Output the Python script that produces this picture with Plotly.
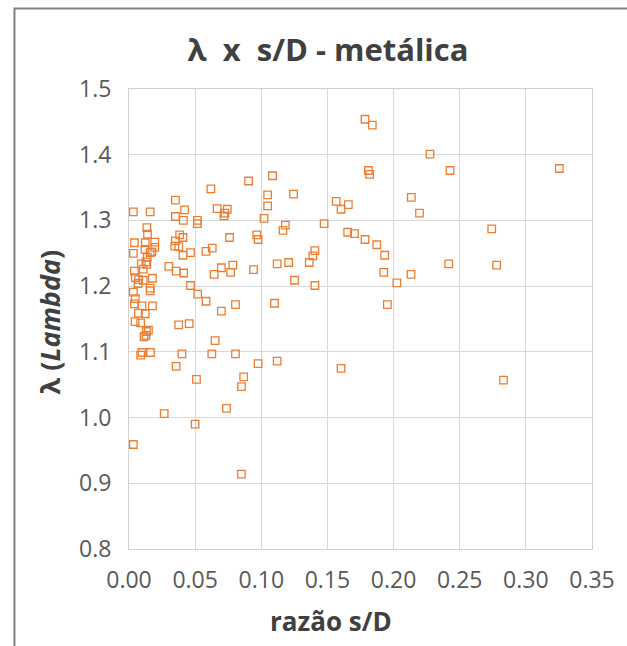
import plotly.graph_objects as go

# razão s/D (x) and λ (y) for each measured sample
razao_sD = [
    0.0619, 0.0351, 0.0033, 0.0160, 0.0420, 0.0666, 0.0743, 0.0725, 0.0718, 0.0351,
    0.0411, 0.0517, 0.0517, 0.0135, 0.0140, 0.0383, 0.0408, 0.0041, 0.0123, 0.0195,
    0.0195, 0.0351, 0.0346, 0.0376, 0.0121, 0.0173, 0.0160, 0.0465, 0.0582, 0.0629,
    0.0033, 0.0408, 0.0138, 0.0128, 0.0093, 0.0134, 0.0301, 0.0356, 0.0413, 0.0041,
    0.0108, 0.0698, 0.0644, 0.0048, 0.0073, 0.0108, 0.0177, 0.0068, 0.0160, 0.0160,
    0.0465, 0.0519, 0.0582, 0.0033, 0.0048, 0.0041, 0.0098, 0.0177, 0.0698, 0.0071,
    0.0123, 0.0046, 0.0088, 0.0376, 0.0455, 0.0147, 0.0132, 0.0113, 0.0128, 0.0651,
    0.0098, 0.0162, 0.0088, 0.0400, 0.0626, 0.0356, 0.0510, 0.0737, 0.0266, 0.0500,
    0.0033, 0.0850, 0.0904, 0.1085, 0.1048, 0.1244, 0.1048, 0.1021, 0.1182, 0.1164,
    0.1475, 0.0760, 0.0966, 0.0976, 0.1405, 0.1390, 0.1363, 0.1120, 0.1207, 0.0785,
    0.0768, 0.0941, 0.1251, 0.1405, 0.0805, 0.1100, 0.0805, 0.0976, 0.1120, 0.1603,
    0.0867, 0.0850, 0.1784, 0.1839, 0.2275, 0.2427, 0.1810, 0.1819, 0.1566, 0.1603,
    0.1658, 0.2134, 0.2196, 0.1653, 0.1705, 0.1784, 0.1873, 0.1933, 0.1926, 0.2417,
    0.2132, 0.2025, 0.1953, 0.3253, 0.2742, 0.2779, 0.2831,
]
lambda_vals = [
    1.348, 1.331, 1.313, 1.313, 1.316, 1.318, 1.317, 1.311, 1.307, 1.306,
    1.300, 1.300, 1.295, 1.289, 1.279, 1.278, 1.274, 1.266, 1.266, 1.267,
    1.259, 1.269, 1.261, 1.260, 1.256, 1.252, 1.251, 1.251, 1.253, 1.258,
    1.250, 1.247, 1.244, 1.237, 1.234, 1.233, 1.230, 1.223, 1.220, 1.223,
    1.226, 1.228, 1.218, 1.213, 1.210, 1.209, 1.212, 1.204, 1.197, 1.193,
    1.201, 1.188, 1.177, 1.191, 1.181, 1.173, 1.170, 1.170, 1.162, 1.159,
    1.158, 1.146, 1.144, 1.141, 1.143, 1.133, 1.131, 1.123, 1.125, 1.117,
    1.099, 1.099, 1.095, 1.097, 1.097, 1.078, 1.058, 1.014, 1.006, 0.990,
    0.959, 0.914, 1.360, 1.368, 1.339, 1.340, 1.322, 1.303, 1.293, 1.285,
    1.295, 1.274, 1.278, 1.271, 1.254, 1.246, 1.236, 1.234, 1.236, 1.232,
    1.221, 1.225, 1.209, 1.201, 1.172, 1.174, 1.097, 1.082, 1.086, 1.075,
    1.062, 1.047, 1.454, 1.445, 1.401, 1.376, 1.376, 1.370, 1.329, 1.317,
    1.324, 1.335, 1.311, 1.282, 1.280, 1.271, 1.263, 1.247, 1.221, 1.234,
    1.218, 1.205, 1.172, 1.379, 1.287, 1.232, 1.057,
]

x_ticks = [0.00, 0.05, 0.10, 0.15, 0.20, 0.25, 0.30, 0.35]
y_ticks = [0.8, 0.9, 1.0, 1.1, 1.2, 1.3, 1.4, 1.5]

FONT = "Open Sans"
TICK_COLOR = "#595959"
TITLE_COLOR = "#404040"
ORANGE = "#ED7D31"
GRID = "#d9d9d9"

W, H = 627, 646
ML, MR, MT, MB = 129, 27, 89, 97
plot_w = W - ML - MR
plot_h = H - MT - MB


def px_to_paper_x(px):
    return (px - ML) / plot_w


def px_to_paper_y(py):
    return (H - MB - py) / plot_h


fig = go.Figure()
fig.add_trace(go.Scatter(
    x=razao_sD,
    y=lambda_vals,
    mode="markers",
    marker=dict(symbol="square-open", size=7.5, color=ORANGE,
                line=dict(width=1.3, color=ORANGE)),
    hoverinfo="x+y",
    showlegend=False,
))

axis_common = dict(
    showgrid=True, gridcolor=GRID, gridwidth=1,
    zeroline=False,
    showline=True, linecolor="#d0d0d0", linewidth=1, mirror=True,
    ticks="outside", tickcolor="rgba(0,0,0,0)",
    tickfont=dict(family=FONT, size=23, color=TICK_COLOR),
)

fig.update_xaxes(range=[0, 0.35], tickvals=x_ticks, tickformat=".2f",
                 ticklen=10, **axis_common)
fig.update_yaxes(range=[0.8, 1.5], tickvals=y_ticks, tickformat=".1f",
                 ticklen=12, **axis_common)

fig.update_layout(
    width=W, height=H,
    margin=dict(l=ML, r=MR, t=MT, b=MB),
    paper_bgcolor="white",
    plot_bgcolor="white",
    title=dict(
        text="<b>λ  x  s/D - metálica</b>",
        font=dict(family=FONT, size=31, color=TITLE_COLOR),
        x=328 / W, xref="container", xanchor="center",
        y=1 - 50 / H, yref="container", yanchor="middle",
    ),
    annotations=[
        dict(text="<b>razão s/D</b>", showarrow=False,
             xref="paper", yref="paper",
             x=px_to_paper_x(334), y=px_to_paper_y(621),
             xanchor="center", yanchor="middle",
             font=dict(family=FONT, size=26, color=TITLE_COLOR)),
        dict(text="<b>λ (<i>Lambda</i>)</b>", showarrow=False,
             xref="paper", yref="paper", textangle=-90,
             x=px_to_paper_x(48), y=px_to_paper_y(322),
             xanchor="center", yanchor="middle",
             font=dict(family=FONT, size=27, color=TITLE_COLOR)),
    ],
    shapes=[
        # outer chart frame
        dict(type="rect", xref="paper", yref="paper", layer="above",
             x0=px_to_paper_x(12.5), x1=px_to_paper_x(700),
             y0=px_to_paper_y(720), y1=px_to_paper_y(8.5),
             line=dict(color="#808080", width=2), fillcolor="rgba(0,0,0,0)"),
    ],
)

fig.write_html("out.html")
